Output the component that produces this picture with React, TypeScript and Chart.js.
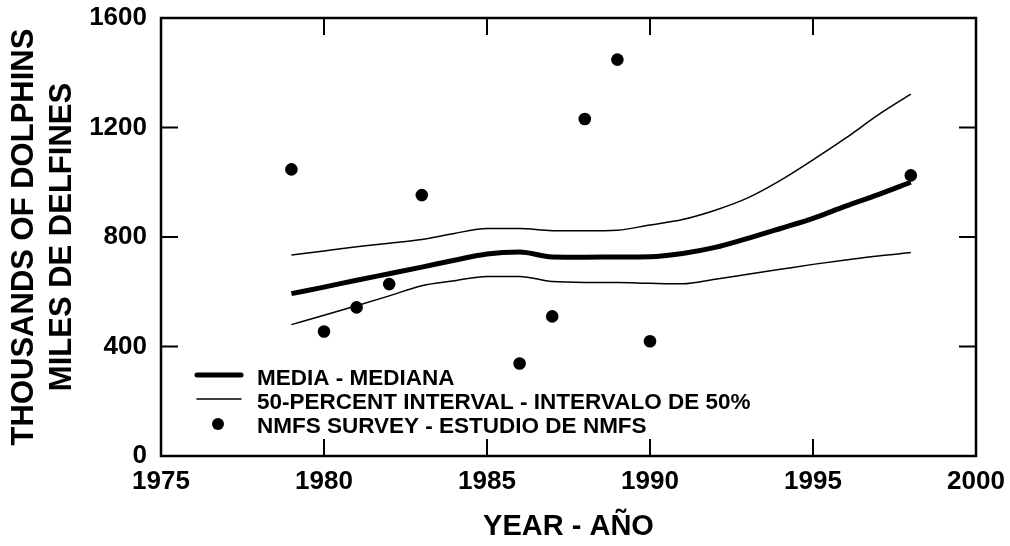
import React, { useEffect, useRef } from "react";
import { Chart, registerables } from "chart.js";

Chart.register(...registerables);

const FONT = "'Liberation Sans', Arial, Helvetica, sans-serif";

const modelYears = [1979, 1980, 1981, 1982, 1983, 1984, 1985, 1986, 1987, 1988, 1989, 1990, 1991, 1992, 1993, 1994, 1995, 1996, 1997, 1998];
const medianValues = [593, 617, 642, 666, 690, 715, 738, 745, 727, 726, 727, 728, 740, 762, 795, 831, 868, 913, 955, 1000];
const upperValues = [734, 749, 764, 777, 791, 813, 831, 831, 823, 823, 825, 844, 864, 898, 943, 1007, 1082, 1161, 1246, 1322];
const lowerValues = [480, 514, 549, 585, 622, 640, 656, 656, 637, 634, 634, 631, 629, 646, 664, 682, 700, 716, 731, 743];

const surveyYears = [1979, 1980, 1981, 1982, 1983, 1986, 1987, 1988, 1989, 1990, 1998];
const surveyValues = [1047, 455, 543, 628, 953, 338, 510, 1231, 1448, 419, 1025];

const xTicks = [1975, 1980, 1985, 1990, 1995, 2000];
const yTicks = [0, 400, 800, 1200, 1600];

const legendLabels = [
  "MEDIA - MEDIANA",
  "50-PERCENT INTERVAL - INTERVALO DE 50%",
  "NMFS SURVEY - ESTUDIO DE NMFS",
];

const framePlugin = {
  id: "frameTicks",
  afterDraw(chart: any) {
    const { ctx, chartArea } = chart;
    const xs = chart.scales.x;
    const ys = chart.scales.y;
    const { left, right, top, bottom } = chartArea;
    ctx.save();
    ctx.strokeStyle = "#000";
    ctx.lineWidth = 2.5;
    ctx.strokeRect(left, top, right - left, bottom - top);
    ctx.lineWidth = 2;
    const tl = 17;
    ctx.beginPath();
    xTicks.slice(1, -1).forEach((v) => {
      const px = xs.getPixelForValue(v);
      ctx.moveTo(px, bottom);
      ctx.lineTo(px, bottom - tl);
      ctx.moveTo(px, top);
      ctx.lineTo(px, top + tl);
    });
    yTicks.slice(1, -1).forEach((v) => {
      const py = ys.getPixelForValue(v);
      ctx.moveTo(left, py);
      ctx.lineTo(left + tl, py);
      ctx.moveTo(right, py);
      ctx.lineTo(right - tl, py);
    });
    ctx.stroke();

    // legend
    const lx0 = 197;
    const lx1 = 241;
    const tx = 257;
    const rows = [378, 402, 426];
    ctx.fillStyle = "#000";
    ctx.font = `bold 22.5px ${FONT}`;
    ctx.textBaseline = "middle";
    ctx.textAlign = "left";
    ctx.lineCap = "round";
    ctx.lineWidth = 5;
    ctx.beginPath();
    ctx.moveTo(lx0, rows[0] - 3);
    ctx.lineTo(lx1, rows[0] - 3);
    ctx.stroke();
    ctx.lineWidth = 1.5;
    ctx.beginPath();
    ctx.moveTo(lx0, rows[1] - 3);
    ctx.lineTo(lx1, rows[1] - 3);
    ctx.stroke();
    ctx.beginPath();
    ctx.arc(218, rows[2] - 2, 6, 0, Math.PI * 2);
    ctx.fill();
    legendLabels.forEach((t, i) => ctx.fillText(t, tx, rows[i] + 1));
    ctx.restore();
  },
};

export default function App() {
  const ref = useRef<HTMLCanvasElement | null>(null);
  useEffect(() => {
    if (!ref.current) return;
    const chart = new Chart(ref.current, {
      type: "line",
      data: {
        datasets: [
          {
            label: legendLabels[0],
            data: modelYears.map((x, i) => ({ x, y: medianValues[i] })),
            borderColor: "#000",
            borderWidth: 5,
            pointRadius: 0,
            cubicInterpolationMode: "monotone",
            fill: false,
          },
          {
            label: legendLabels[1],
            data: modelYears.map((x, i) => ({ x, y: upperValues[i] })),
            borderColor: "#000",
            borderWidth: 1.5,
            pointRadius: 0,
            cubicInterpolationMode: "monotone",
            fill: false,
          },
          {
            label: legendLabels[1] + " (low)",
            data: modelYears.map((x, i) => ({ x, y: lowerValues[i] })),
            borderColor: "#000",
            borderWidth: 1.5,
            pointRadius: 0,
            cubicInterpolationMode: "monotone",
            fill: false,
          },
          {
            label: legendLabels[2],
            data: surveyYears.map((x, i) => ({ x, y: surveyValues[i] })),
            showLine: false,
            pointRadius: 6.3,
            pointBackgroundColor: "#000",
            pointBorderColor: "#000",
            pointBorderWidth: 0,
          },
        ],
      },
      options: {
        animation: false,
        responsive: true,
        maintainAspectRatio: false,
        layout: { padding: { top: 18, right: 34, bottom: 0, left: 0 } },
        plugins: { legend: { display: false }, tooltip: { enabled: false } },
        scales: {
          x: {
            type: "linear",
            min: 1975,
            max: 2000,
            afterBuildTicks: (s: any) => {
              s.ticks = xTicks.map((v) => ({ value: v }));
            },
            afterFit: (s: any) => {
              s.height = 90;
              s.paddingLeft = 0;
              s.paddingRight = 0;
            },
            grid: { display: false, drawTicks: false },
            border: { display: false },
            ticks: {
              color: "#000",
              padding: 10,
              maxRotation: 0,
              autoSkip: false,
              font: { family: FONT, size: 26, weight: "bold" },
              callback: (v: any) => String(v),
            },
            title: {
              display: true,
              text: "YEAR - AÑO",
              color: "#000",
              font: { family: FONT, size: 29, weight: "bold", lineHeight: 1.2 },
              padding: { top: 0, bottom: 2 },
            },
          },
          y: {
            type: "linear",
            min: 0,
            max: 1600,
            afterBuildTicks: (s: any) => {
              s.ticks = yTicks.map((v) => ({ value: v }));
            },
            afterFit: (s: any) => {
              s.width = 161;
              s.paddingTop = 0;
              s.paddingBottom = 0;
            },
            grid: { display: false, drawTicks: false },
            border: { display: false },
            ticks: {
              color: "#000",
              padding: 14,
              autoSkip: false,
              font: { family: FONT, size: 26, weight: "bold" },
              callback: (v: any) => String(v),
            },
            title: {
              display: true,
              text: ["THOUSANDS OF DOLPHINS", "MILES DE DELFINES"],
              color: "#000",
              font: { family: FONT, size: 31, weight: "bold", lineHeight: 38 / 31 },
              padding: { top: 5, bottom: 0 },
            },
          },
        },
      },
      plugins: [framePlugin],
    } as any);
    return () => chart.destroy();
  }, []);
  return (
    <div style={{ position: "absolute", left: 0, top: 0, width: 1010, height: 546, background: "#fff" }}>
      <canvas ref={ref} />
    </div>
  );
}
